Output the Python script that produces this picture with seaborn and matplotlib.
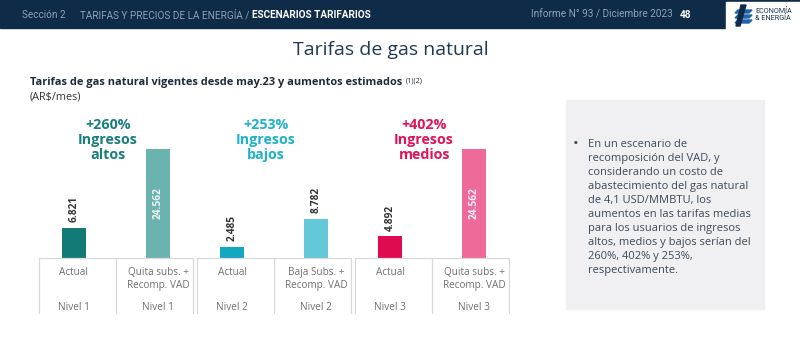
import numpy as np
import pandas as pd
import matplotlib
matplotlib.use('Agg')
import matplotlib.pyplot as plt
import seaborn as sns
from matplotlib.patches import Rectangle, Polygon
from matplotlib.transforms import blended_transform_factory

# ---------------- data ----------------
niveles = ['Nivel 1', 'Nivel 1', 'Nivel 2', 'Nivel 2', 'Nivel 3', 'Nivel 3']
tipos = ['Actual', 'Escenario', 'Actual', 'Escenario', 'Actual', 'Escenario']
escenarios = ['Actual', 'Quita subs. +\nRecomp. VAD', 'Actual',
              'Baja Subs. +\nRecomp. VAD', 'Actual', 'Quita subs. +\nRecomp. VAD']
valores = [6821, 24562, 2485, 8782, 4892, 24562]
etiquetas = ['6.821', '24.562', '2.485', '8.782', '4.892', '24.562']
aumentos = ['+260%', '+253%', '+402%']
grupos = ['Ingresos\naltos', 'Ingresos\nbajos', 'Ingresos\nmedios']
colores = ['#137a75', '#6ab3ae', '#14a7c0', '#63c8d7', '#e00a50', '#ee6a9a']
colores_grupo = ['#1a7f7a', '#1fb2c9', '#e3135a']
bullet_lines = ['En un escenario de', 'recomposición del VAD, y',
                'considerando un costo de', 'abastecimiento del gas natural',
                'de 4,1 USD/MMBTU, los', 'aumentos en las tarifas medias',
                'para los usuarios de ingresos', 'altos, medios y bajos serían del',
                '260%, 402% y 253%,', 'respectivamente.']

df = pd.DataFrame({'nivel': niveles, 'tipo': tipos, 'valor': valores})

sns.set_theme(style='white')
plt.rcParams['font.family'] = ['Open Sans', 'DejaVu Sans']

W, H = 800, 337
fig = plt.figure(figsize=(8, 3.37), dpi=100)
fig.patch.set_facecolor('white')

def fx(x):
    return x / W

def fy(y):
    return 1 - y / H

# header bar
fig.patches.append(Rectangle((0, fy(28)), 1, 28 / H, transform=fig.transFigure,
                             color='#0e2c48', zorder=0))
hfam = ['Roboto', 'DejaVu Sans']
fig.text(fx(22), fy(15), 'Sección 2', color='#8fa2b6', size=7.2, va='center', family=hfam)
t1 = fig.text(fx(80), fy(15), 'TARIFAS Y PRECIOS DE LA ENERGÍA /', color='#8fa2b6', size=7.2,
              va='center', family=hfam)
fig.canvas.draw()
b1 = t1.get_window_extent()
fig.text((b1.x1 + 3) / W, fy(15), 'ESCENARIOS TARIFARIOS', color='white', size=7.2,
         weight='bold', va='center', family=hfam)
fig.text(fx(531), fy(15), 'Informe N° 93 / Diciembre 2023', color='#8fa2b6', size=7.2,
         va='center', family=hfam)
fig.text(fx(680), fy(15), '48', color='white', size=7.2, weight='bold', va='center', family=hfam)
# logo
fig.patches.append(Rectangle((fx(726), fy(30)), 74 / W, 28 / H, transform=fig.transFigure,
                             color='white', zorder=1))
for (x0, y0, x1, y1) in [(735, 10, 752, 13), (735, 15, 752, 18), (735, 20, 752, 23)]:
    fig.patches.append(Polygon([(fx(x0 + 3), fy(y0)), (fx(x1), fy(y0)), (fx(x1 - 3), fy(y1)),
                                (fx(x0), fy(y1))], closed=True, transform=fig.transFigure,
                               color='#1f63ad', zorder=2))
fig.patches.append(Polygon([(fx(741), fy(5)), (fx(746), fy(5)), (fx(740), fy(26)),
                            (fx(736), fy(26))], closed=True, transform=fig.transFigure,
                           color='#0e2c48', zorder=3))
fig.text(fx(755), fy(15), 'ECONOMÍA\n& ENERGÍA', color='#1b3550', size=5.2, va='center',
         linespacing=1.0, family=hfam)

# titles
fig.text(fx(391), fy(50), 'Tarifas de gas natural', ha='center', va='center', size=14,
         color='#1f3b57')
sub = fig.text(fx(30), fy(82), 'Tarifas de gas natural vigentes desde may.23 y aumentos estimados',
               ha='left', va='center', size=7.9, weight='bold', color='#1c2b3a')
fig.text(fx(30), fy(97), '(AR$/mes)', ha='left', va='center', size=7.8, color='#333333')
fig.canvas.draw()
bb = sub.get_window_extent()
fig.text((bb.x1 + 3) / W, (bb.y1 - 4) / H, '(1)(2)', ha='left', va='center', size=5.2,
         color='#1c2b3a')

# right text box
fig.patches.append(Rectangle((fx(566), fy(309)), 198 / W, 209 / H, transform=fig.transFigure,
                             color='#f0f0f2', zorder=0))
fig.text(fx(573), fy(145), '•', ha='left', va='center', size=11, color='#3b4a5c')
fig.text(fx(588), fy(139), '\n'.join(bullet_lines), ha='left', va='top', size=8.0,
         color='#3b4a5c', linespacing=1.37)

# ---------------- bars ----------------
ax = fig.add_axes([fx(33), 79 / H, 482 / W, 148 / H])
sns.barplot(data=df, x='nivel', y='valor', hue='tipo', width=1.063, gap=0.715,
            palette=['#000000', '#000000'], saturation=1, legend=False, ax=ax, errorbar=None)
ax.set_xlim(-0.525, 2.525)
ax.set_ylim(0, 33350)
ax.axis('off')

# recolor bars & value labels
for h_idx, cont in enumerate(ax.containers):
    for g_idx, patch in enumerate(cont.patches):
        i = g_idx * 2 + h_idx
        patch.set_facecolor(colores[i])
        patch.set_edgecolor('none')
        cx = patch.get_x() + patch.get_width() / 2
        hgt = patch.get_height()
        if hgt > 20000:
            ax.text(cx, hgt / 2, etiquetas[i], rotation=90, ha='center', va='center',
                    color='white', size=7.3, weight='bold', alpha=0.9)
        else:
            ax.annotate(etiquetas[i], (cx, hgt), xytext=(0, 4), textcoords='offset points',
                        rotation=90, ha='center', va='bottom', color='#333333', size=7.3,
                        weight='bold')

# group annotations
tr = blended_transform_factory(ax.transData, ax.transAxes)
for g in range(3):
    ax.text(g - 0.05, (258 - 118) / 148, aumentos[g] + '\n' + grupos[g], transform=tr,
            ha='center', va='top', size=10.3, weight='bold', color=colores_grupo[g],
            linespacing=1.1)

# table under the bars
ybot = -(313 - 258) / 148
lc = '#d9d9d9'
for g in range(3):
    left, right = g - 0.49, g + 0.49
    ax.plot([left, right], [0, 0], color=lc, lw=0.9, transform=tr, clip_on=False)
    for xv in (left, g, right):
        ax.plot([xv, xv], [0, ybot], color=lc, lw=0.9, transform=tr, clip_on=False)

for h_idx, cont in enumerate(ax.containers):
    for g_idx, patch in enumerate(cont.patches):
        i = g_idx * 2 + h_idx
        cx = patch.get_x() + patch.get_width() / 2
        ax.text(cx, -(267 - 258) / 148, escenarios[i], transform=tr, ha='center', va='top',
                size=7.2, color='#707070', linespacing=1.3)
        ax.text(cx, -(307 - 258) / 148, niveles[i], transform=tr, ha='center', va='center',
                size=7.2, color='#707070')

fig.savefig('out.png', dpi=100)
